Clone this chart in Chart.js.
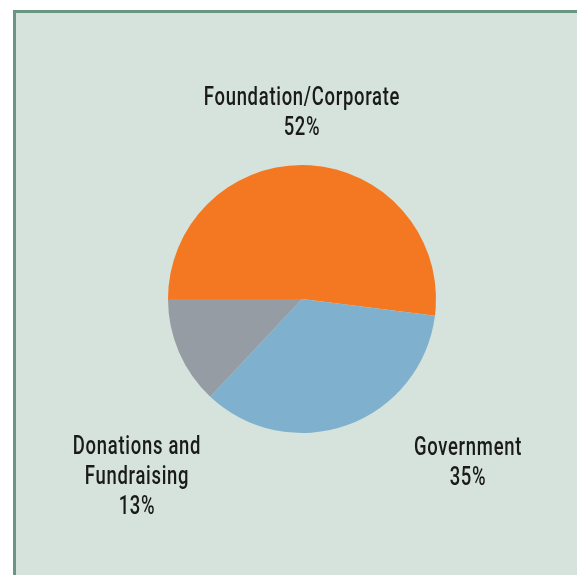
<!doctype html>
<html>

<head>
    <title>Funding</title>
    <meta http-equiv="Content-Type" content="text/html;charset=UTF-8">
    <script src="https://cdn.jsdelivr.net/npm/chart.js@4/dist/chart.umd.min.js"></script>
    <style>
        body { margin: 0; background: #ffffff; }
        #fundo {
            position: absolute; left: 13px; top: 10px; right: 0; bottom: 0;
            background: #d5e3dc;
            border-left: 3px solid #6a9585;
            border-top: 3px solid #6a9585;
        }
        #grafico { position: absolute; left: 0; top: 0; }
    </style>
</head>

<body>
    <div id="fundo"></div>
    <canvas id="grafico" width="577" height="575"></canvas>
</body>
<script>

    var categorias = ["Foundation/Corporate", "Government", "Donations and Fundraising"];
    var valores = [52, 35, 13];
    var rotulos = [["Foundation/Corporate", "52%"], ["Government", "35%"], ["Donations and", "Fundraising", "13%"]];
    var cores = ["#f47821", "#7fb1cf", "#959ca3"];

    // posicao dos rotulos (centro da primeira linha)
    var posRotulos = [[302, 98], [468, 448], [137, 447]];
    var aperto = 0.71; // fonte condensada

    var textos = {
        id: 'textos',
        afterDraw: function (chart) {
            var ctx = chart.ctx;
            ctx.save();
            ctx.fillStyle = "#1a1a1a";
            ctx.font = "500 26px Roboto, sans-serif";
            ctx.letterSpacing = "1px";
            ctx.textAlign = "center";
            ctx.textBaseline = "middle";
            rotulos.forEach(function (linhas, i) {
                linhas.forEach(function (l, j) {
                    ctx.save();
                    ctx.translate(posRotulos[i][0], posRotulos[i][1] + j * 30);
                    ctx.scale(aperto, 1);
                    ctx.fillText(l, 0, 0);
                    ctx.restore();
                });
            });
            ctx.restore();
        }
    };

    var contexto = document.getElementById("grafico");
    var grafico = new Chart(contexto, {
        type: 'pie',
        data: {
            labels: categorias,
            datasets: [{
                data: valores,
                backgroundColor: cores,
                borderWidth: 0
            }]
        },
        options: {
            responsive: false,
            animation: false,
            rotation: -90,
            layout: { padding: { left: 168, right: 141, top: 165, bottom: 142 } },
            plugins: {
                legend: { display: false },
                tooltip: { enabled: false }
            }
        },
        plugins: [textos]
    });
</script>

</html>
